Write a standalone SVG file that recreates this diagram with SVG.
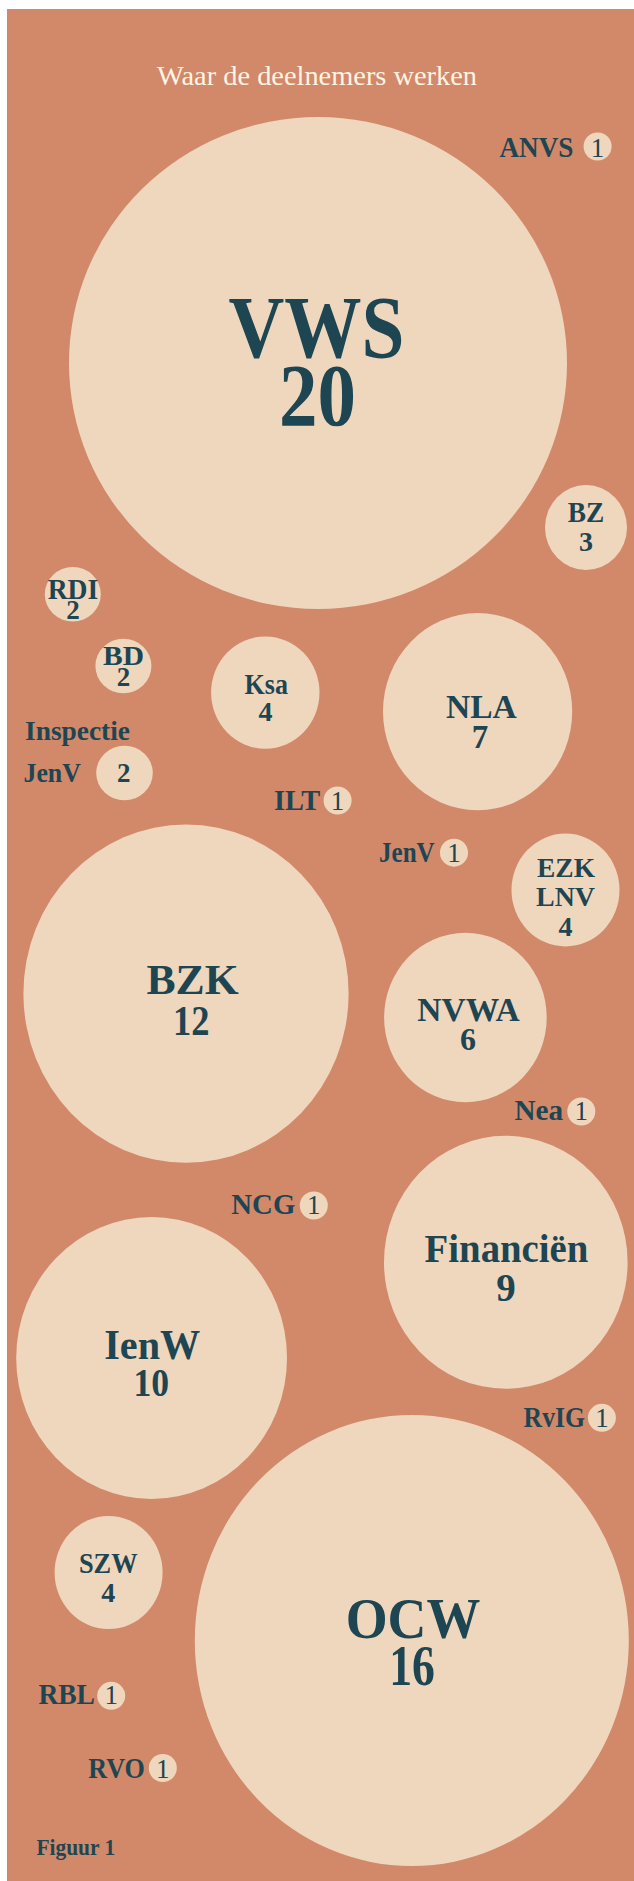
<svg xmlns="http://www.w3.org/2000/svg" width="634" height="1881" viewBox="0 0 634 1881">
<style>
.bg{fill:#D2896A}
.c{fill:#EFD7BE}
.t{font-family:"Liberation Serif","Times New Roman",serif;font-weight:bold;fill:#1E4552;text-anchor:middle}
.l{font-family:"Liberation Serif","Times New Roman",serif;font-weight:bold;fill:#1E4552}
.n{font-family:"Liberation Serif","Times New Roman",serif;font-weight:normal;fill:#1E4552;text-anchor:middle;font-size:27px}
.title{font-family:"Liberation Serif","Times New Roman",serif;fill:#FFF4E4;text-anchor:middle;font-size:28px}
</style>
<rect x="0" y="0" width="634" height="1881" fill="#FFFFFF"/>
<rect class="bg" x="7" y="9" width="627" height="1872"/>
<text class="title" x="317" y="85" textLength="320" lengthAdjust="spacingAndGlyphs">Waar de deelnemers werken</text>
<g id="connectors"/>
<g id="node-vws">
<ellipse class="c" cx="318" cy="363" rx="249" ry="246"/>
<text class="t" x="316.5" y="357" font-size="89" textLength="176" lengthAdjust="spacingAndGlyphs">VWS</text>
<text class="t" x="317.5" y="425" font-size="89" textLength="77" lengthAdjust="spacingAndGlyphs">20</text>
</g>
<g id="node-anvs">
<text class="l" x="499.4" y="156.6" font-size="29" textLength="74" lengthAdjust="spacingAndGlyphs">ANVS</text>
<circle class="c" cx="597.6" cy="146.5" r="14"/>
<text class="n" x="597.6" y="156.6">1</text>
</g>
<g id="node-bz">
<ellipse class="c" cx="586" cy="527.5" rx="41" ry="42.5"/>
<text class="t" x="586" y="521.7" font-size="29" textLength="36.5" lengthAdjust="spacingAndGlyphs">BZ</text>
<text class="t" x="586" y="551" font-size="28">3</text>
</g>
<g id="node-rdi">
<ellipse class="c" cx="72.8" cy="594.3" rx="28" ry="27.3"/>
<text class="t" x="73" y="599.4" font-size="29" textLength="50.6" lengthAdjust="spacingAndGlyphs">RDI</text>
<text class="t" x="73" y="619" font-size="27">2</text>
</g>
<g id="node-bd">
<ellipse class="c" cx="123.4" cy="666" rx="28" ry="27.3"/>
<text class="t" x="123.5" y="665.3" font-size="28" textLength="41" lengthAdjust="spacingAndGlyphs">BD</text>
<text class="t" x="123.5" y="685.5" font-size="27">2</text>
</g>
<g id="node-ksa">
<ellipse class="c" cx="265.3" cy="692.6" rx="54.2" ry="56.2"/>
<text class="t" x="266.3" y="693.8" font-size="29" textLength="43.4" lengthAdjust="spacingAndGlyphs">Ksa</text>
<text class="t" x="265.5" y="721.3" font-size="28">4</text>
</g>
<g id="node-nla">
<ellipse class="c" cx="477.6" cy="711.6" rx="94.6" ry="98.6"/>
<text class="t" x="481.4" y="718" font-size="34" textLength="70.8" lengthAdjust="spacingAndGlyphs">NLA</text>
<text class="t" x="480" y="747.6" font-size="33">7</text>
</g>
<g id="node-inspectie-jenv">
<text class="l" x="25" y="739.5" font-size="28" textLength="105" lengthAdjust="spacingAndGlyphs">Inspectie</text>
<text class="l" x="23.5" y="782" font-size="28" textLength="57.4" lengthAdjust="spacingAndGlyphs">JenV</text>
<ellipse class="c" cx="124.5" cy="773" rx="28.3" ry="27.3"/>
<text class="t" x="123.7" y="782" font-size="27">2</text>
</g>
<g id="node-ilt">
<text class="l" x="274" y="810.3" font-size="29" textLength="46.3" lengthAdjust="spacingAndGlyphs">ILT</text>
<circle class="c" cx="337.6" cy="800.5" r="14"/>
<text class="n" x="337.6" y="810.3">1</text>
</g>
<g id="node-jenv">
<text class="l" x="379" y="862" font-size="29" textLength="55.7" lengthAdjust="spacingAndGlyphs">JenV</text>
<circle class="c" cx="454" cy="852.7" r="14"/>
<text class="n" x="454" y="862">1</text>
</g>
<g id="node-ezk-lnv">
<ellipse class="c" cx="565.5" cy="890" rx="54" ry="56.4"/>
<text class="t" x="566" y="877" font-size="27" textLength="58" lengthAdjust="spacingAndGlyphs">EZK</text>
<text class="t" x="565.5" y="906" font-size="28" textLength="59" lengthAdjust="spacingAndGlyphs">LNV</text>
<text class="t" x="565.5" y="935.6" font-size="28">4</text>
</g>
<g id="node-bzk">
<ellipse class="c" cx="186" cy="993.6" rx="162.6" ry="169.2"/>
<text class="t" x="192.5" y="994.3" font-size="43" textLength="92.2" lengthAdjust="spacingAndGlyphs">BZK</text>
<text class="t" x="191.3" y="1034.7" font-size="42" textLength="36.5" lengthAdjust="spacingAndGlyphs">12</text>
</g>
<g id="node-nvwa">
<ellipse class="c" cx="465.4" cy="1017.5" rx="81.3" ry="84.7"/>
<text class="t" x="468.5" y="1020.5" font-size="33" textLength="102.3" lengthAdjust="spacingAndGlyphs">NVWA</text>
<text class="t" x="468" y="1049.6" font-size="32">6</text>
</g>
<g id="node-nea">
<text class="l" x="514.4" y="1119.6" font-size="29" textLength="48.6" lengthAdjust="spacingAndGlyphs">Nea</text>
<circle class="c" cx="581.3" cy="1111.5" r="14"/>
<text class="n" x="581.3" y="1119.6">1</text>
</g>
<g id="node-ncg">
<text class="l" x="231.3" y="1213.8" font-size="29" textLength="64" lengthAdjust="spacingAndGlyphs">NCG</text>
<circle class="c" cx="313.8" cy="1205.5" r="14"/>
<text class="n" x="313.8" y="1213.8">1</text>
</g>
<g id="node-financien">
<ellipse class="c" cx="505.8" cy="1262.3" rx="121.8" ry="126.5"/>
<text class="t" x="506.5" y="1261.5" font-size="40" textLength="163.8" lengthAdjust="spacingAndGlyphs">Financiën</text>
<text class="t" x="506" y="1301" font-size="39">9</text>
</g>
<g id="node-ienw">
<ellipse class="c" cx="151.6" cy="1358" rx="135.4" ry="141"/>
<text class="t" x="152.2" y="1358.5" font-size="43" textLength="96" lengthAdjust="spacingAndGlyphs">IenW</text>
<text class="t" x="151.2" y="1396.1" font-size="41" textLength="35.6" lengthAdjust="spacingAndGlyphs">10</text>
</g>
<g id="node-rvig">
<text class="l" x="523.6" y="1427.3" font-size="29" textLength="61.5" lengthAdjust="spacingAndGlyphs">RvIG</text>
<circle class="c" cx="601.9" cy="1417.8" r="14"/>
<text class="n" x="601.9" y="1427.3">1</text>
</g>
<g id="node-ocw">
<ellipse class="c" cx="411.8" cy="1640.5" rx="217" ry="225.5"/>
<text class="t" x="413" y="1638.3" font-size="58" textLength="134.7" lengthAdjust="spacingAndGlyphs">OCW</text>
<text class="t" x="412" y="1685" font-size="57" textLength="45.7" lengthAdjust="spacingAndGlyphs">16</text>
</g>
<g id="node-szw">
<ellipse class="c" cx="108.6" cy="1572.5" rx="54" ry="56.5"/>
<text class="t" x="108.2" y="1573.3" font-size="29" textLength="58.6" lengthAdjust="spacingAndGlyphs">SZW</text>
<text class="t" x="108.2" y="1601.7" font-size="28">4</text>
</g>
<g id="node-rbl">
<text class="l" x="38.4" y="1704" font-size="29" textLength="56.6" lengthAdjust="spacingAndGlyphs">RBL</text>
<circle class="c" cx="111.2" cy="1695.8" r="14"/>
<text class="n" x="111.2" y="1704">1</text>
</g>
<g id="node-rvo">
<text class="l" x="88.2" y="1778.3" font-size="29" textLength="56.6" lengthAdjust="spacingAndGlyphs">RVO</text>
<circle class="c" cx="162.8" cy="1768" r="14"/>
<text class="n" x="162.8" y="1778.3">1</text>
</g>
<g id="caption">
<text class="l" x="36.4" y="1855" font-size="23" textLength="78.8" lengthAdjust="spacingAndGlyphs">Figuur 1</text>
</g>
</svg>
